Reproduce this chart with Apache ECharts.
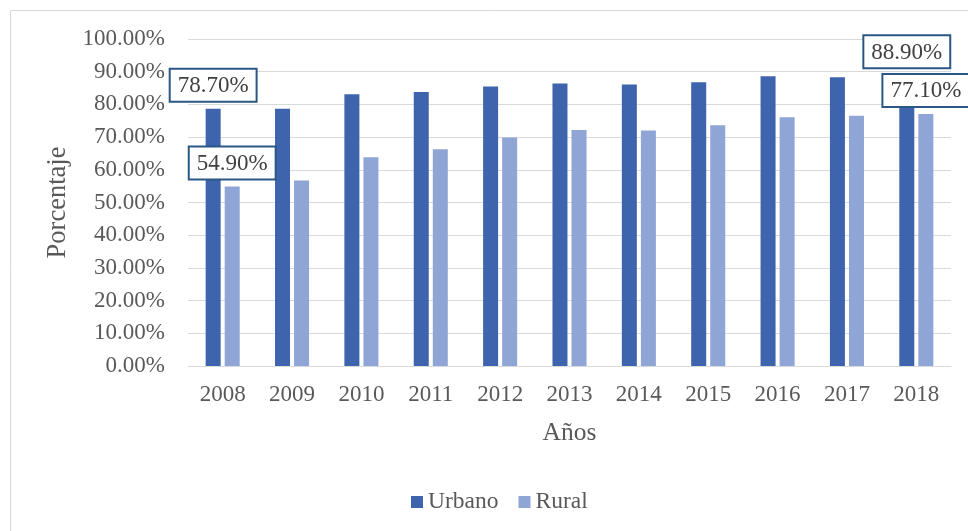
<!DOCTYPE html>
<html>
<head>
<meta charset="utf-8">
<script src="https://cdn.jsdelivr.net/npm/echarts@6/dist/echarts.min.js"></script>
<style>
html,body{margin:0;padding:0;background:#fff;}
#chart{width:968px;height:531px;}
</style>
</head>
<body>
<div id="chart"></div>
<script>
var years = ['2008','2009','2010','2011','2012','2013','2014','2015','2016','2017','2018'];
var urbano = [78.7, 78.7, 83.1, 83.8, 85.5, 86.4, 86.1, 86.8, 88.6, 88.3, 88.9];
var rural = [54.9, 56.7, 63.8, 66.3, 69.9, 72.2, 72.0, 73.6, 76.1, 76.5, 77.1];
var labelledIdx = [0, 10];
var yTicks = [0,10,20,30,40,50,60,70,80,90,100];

var FONT = '"Liberation Serif","Times New Roman",serif';
var labelStyle = {
  show: true,
  position: 'top',
  distance: 8,
  formatter: function(p){ return p.value.toFixed(2) + '%'; },
  fontFamily: FONT,
  fontSize: 23,
  color: '#404040',
  backgroundColor: '#ffffff',
  borderColor: '#2A5783',
  borderWidth: 2,
  padding: [5, 7, 3, 7]
};
function build(arr){
  return arr.map(function(v,i){
    var d = {value: v};
    if (labelledIdx.indexOf(i) >= 0) d.label = labelStyle;
    return d;
  });
}
var chart = echarts.init(document.getElementById('chart'), null, {renderer:'canvas'});
chart.setOption({
  animation: false,
  backgroundColor: '#ffffff',
  textStyle: {fontFamily: FONT},
  graphic: [{
    type: 'rect', silent: true, z: -10,
    shape: {x: 10.5, y: 10.5, width: 1000, height: 600},
    style: {fill: 'none', stroke: '#D9D9D9', lineWidth: 1}
  }],
  grid: {left: 188, right: 17, top: 39, bottom: 165, containLabel: false},
  legend: {
    bottom: 12, left: 406,
    itemWidth: 12, itemHeight: 12, itemGap: 20,
    icon: 'rect',
    textStyle: {fontFamily: FONT, fontSize: 23.5, color: '#595959'},
    data: ['Urbano','Rural']
  },
  xAxis: {
    type: 'category',
    data: years,
    name: 'Años',
    nameLocation: 'middle',
    nameGap: 54,
    nameTextStyle: {fontFamily: FONT, fontSize: 25.5, color: '#595959'},
    axisLine: {show: true, lineStyle: {color: '#D9D9D9', width: 1}},
    axisTick: {show: false},
    axisLabel: {fontFamily: FONT, fontSize: 23, color: '#595959', margin: 17}
  },
  yAxis: {
    type: 'value',
    min: 0, max: 100, interval: 10,
    name: 'Porcentaje',
    nameLocation: 'middle',
    nameGap: 112,
    nameTextStyle: {fontFamily: FONT, fontSize: 26.5, color: '#595959'},
    axisLine: {show: false},
    axisTick: {show: false},
    splitLine: {lineStyle: {color: '#D9D9D9', width: 1}},
    axisLabel: {
      fontFamily: FONT, fontSize: 23, color: '#595959', margin: 23,
      formatter: function(v){ return yTicks.indexOf(v) >= 0 ? v.toFixed(2) + '%' : ''; }
    }
  },
  series: [
    {name: 'Urbano', type: 'bar', data: build(urbano), barWidth: 15, barGap: '27%',
     itemStyle: {color: '#3D64AD'}},
    {name: 'Rural', type: 'bar', data: build(rural), barWidth: 15, barGap: '27%',
     itemStyle: {color: '#8FA5D6'}}
  ]
});
</script>
</body>
</html>
